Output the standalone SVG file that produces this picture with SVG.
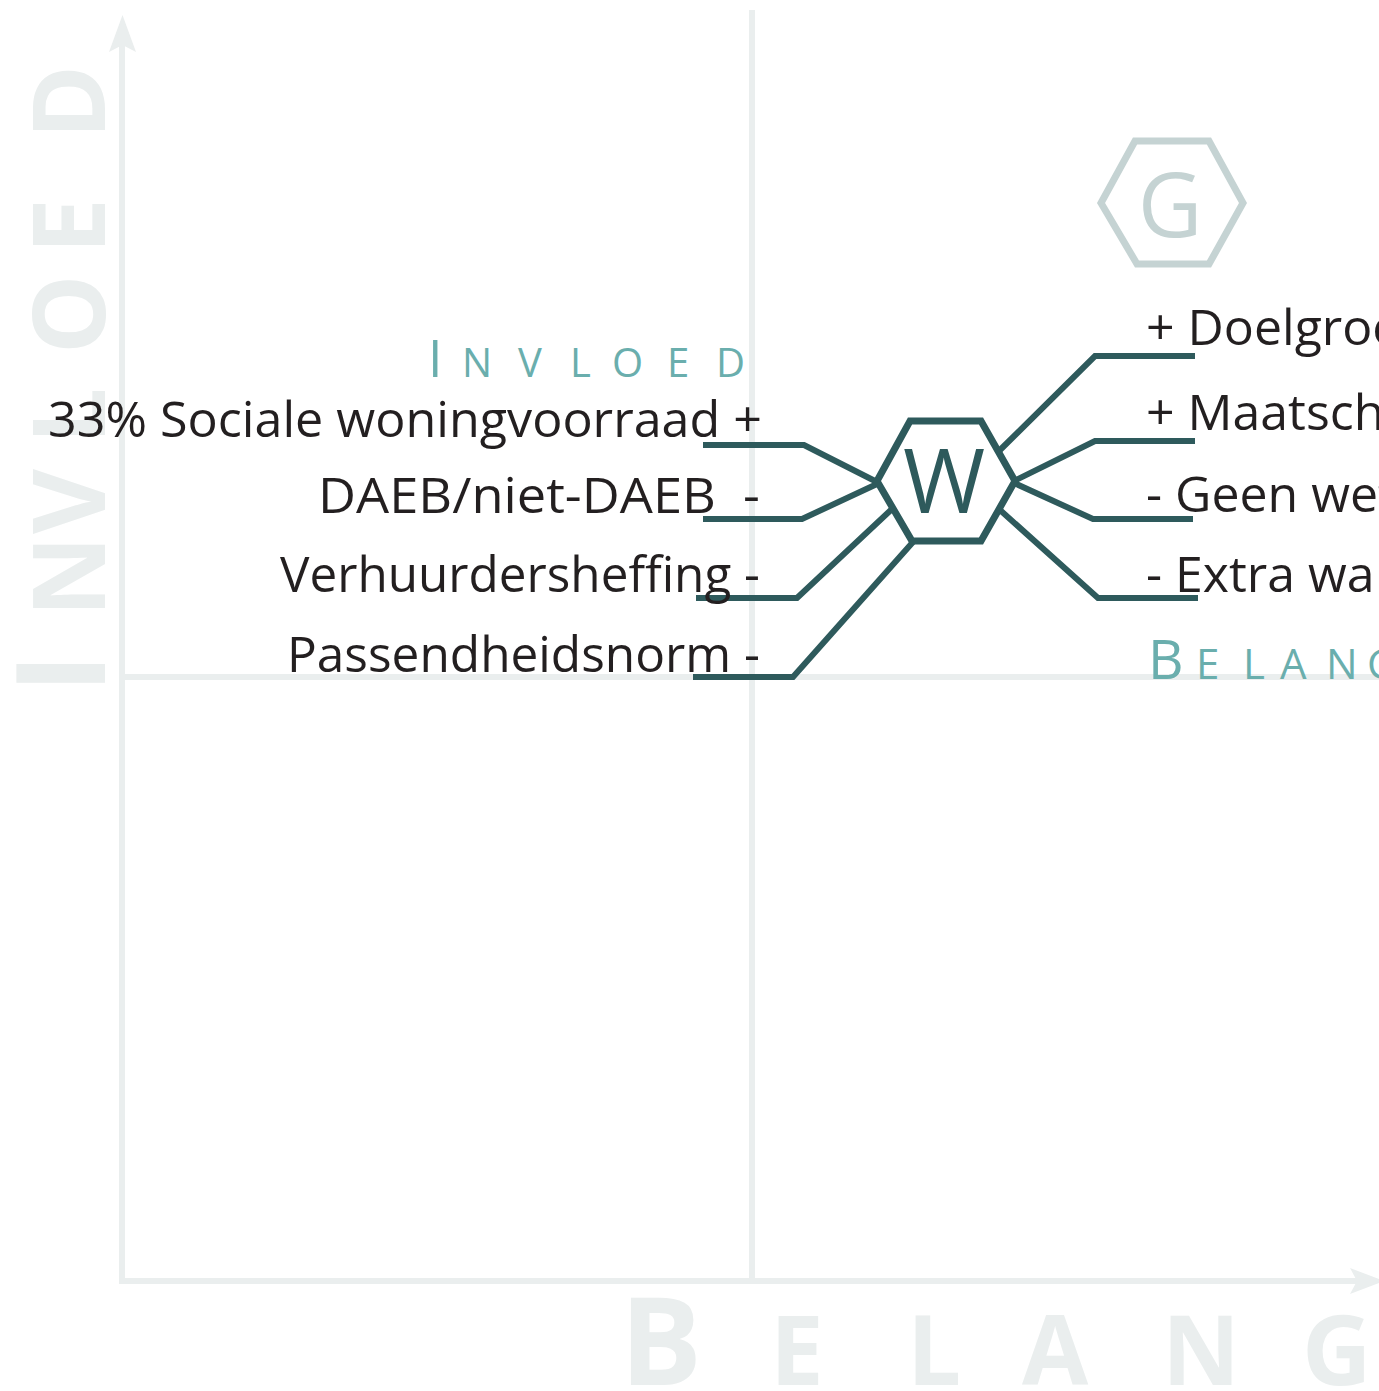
<svg xmlns="http://www.w3.org/2000/svg" width="1379" height="1391" viewBox="0 0 1379 1391">
<style>
.axis{stroke:#eaeeee;stroke-width:6;fill:none}
.axtxt{fill:#eaeeee;font-family:"Open Sans",sans-serif;font-weight:700}
.lbl{fill:#6aaead;font-family:"Open Sans",sans-serif;font-weight:400}
.txt{fill:#231f20;font-family:"Open Sans",sans-serif;font-size:50px}
.con{stroke:#2e5a5c;stroke-width:6;fill:none;stroke-linejoin:miter}
</style>
<rect width="1379" height="1391" fill="#ffffff"/>
<g id="axes">
<line class="axis" x1="122" y1="40" x2="122" y2="1283"/>
<path d="M122.5 15 L136 52 L122.5 45 L109 52 Z" fill="#eaeeee"/>
<line class="axis" x1="119" y1="1281" x2="1365" y2="1281"/>
<path d="M1384 1281 L1350 1268 L1357 1281 L1350 1294 Z" fill="#eaeeee"/>
<line class="axis" x1="752" y1="10" x2="752" y2="1281"/>
<line class="axis" x1="122" y1="677" x2="1379" y2="677"/>
</g>
<g id="axis-labels">
<text class="axtxt" font-size="100" transform="translate(105,694) rotate(-90)" x="0 77 160 250 340 440 555" y="0"><tspan font-size="124">I</tspan>NVLOED</text>
<text class="axtxt" font-size="96" x="620 770 907 1022 1162 1302" y="1385"><tspan font-size="122">B</tspan>ELANG</text>
</g>
<g id="connectors">
<polyline class="con" points="703,445 804,445 877,482"/>
<polyline class="con" points="703,519 802,519 877,484"/>
<polyline class="con" points="696,598 797,598 893,508"/>
<polyline class="con" points="693,677 793,677 913,542"/>
<polyline class="con" points="1000,450 1095,356 1195,356"/>
<polyline class="con" points="1014,481 1095,441 1195,441"/>
<polyline class="con" points="1014,483 1093,519 1193,519"/>
<polyline class="con" points="1000,510 1098,598 1198,598"/>
</g>
<g id="node-G">
<polygon points="1135,141 1209,141 1243,203 1209,264 1137,264 1101,203" fill="none" stroke="#c5d3d3" stroke-width="7"/>
<text x="1170" y="237" text-anchor="middle" font-family="'Open Sans',sans-serif" font-size="89" fill="#c5d3d3">G</text>
</g>
<g id="node-W">
<polygon points="910,421 981,421 1015,481 981,541 912,541 877,481" fill="#ffffff" stroke="#2e5a5c" stroke-width="7"/>
<text x="944" y="513" text-anchor="middle" font-family="'Open Sans',sans-serif" font-size="89" fill="#2e5a5c">W</text>
</g>
<g id="label-invloed">
<text class="lbl" font-size="40" x="428 462 518 570 612 667 716" y="377"><tspan font-size="52">I</tspan>NVLOED</text>
</g>
<g id="label-belang">
<text class="lbl" font-size="42" x="1148 1196 1243 1280 1326 1367" y="679"><tspan font-size="55">B</tspan>ELANG</text>
</g>
<g id="left-items">
<text class="txt" x="48" y="437" textLength="714" lengthAdjust="spacingAndGlyphs">33% Sociale woningvoorraad +</text>
<text class="txt" x="318" y="513" textLength="442" lengthAdjust="spacingAndGlyphs" xml:space="preserve">DAEB/niet-DAEB  -</text>
<text class="txt" x="280" y="592" textLength="480" lengthAdjust="spacingAndGlyphs">Verhuurdersheffing -</text>
<text class="txt" x="287" y="672" textLength="473" lengthAdjust="spacingAndGlyphs">Passendheidsnorm -</text>
</g>
<g id="right-items">
<text class="txt" x="1146" y="345">+ Doelgroep</text>
<text class="txt" x="1146" y="430">+ Maatschappelijk</text>
<text class="txt" x="1146" y="512">- Geen wet</text>
<text class="txt" x="1146" y="592">- Extra wa</text>
</g>
</svg>
